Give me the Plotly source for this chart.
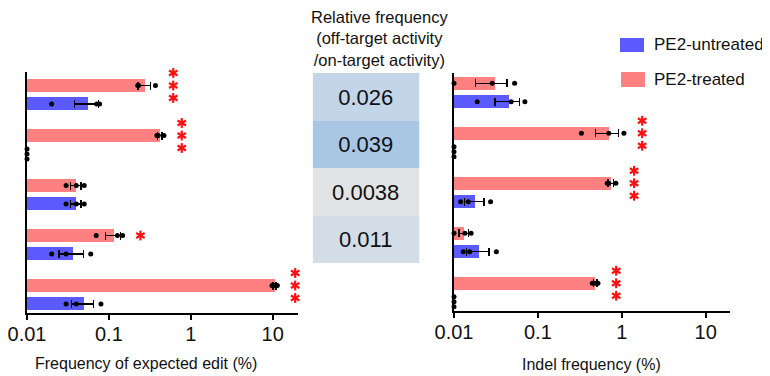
import numpy as np
import plotly.graph_objects as go

# ---------------- data ----------------
groups = [1, 2, 3, 4, 5]
series_names = ["PE2-untreated", "PE2-treated"]

# replicate values (%) per group; 0 = not detected
left_treated = [[0.225, 0.23, 0.37], [0.385, 0.40, 0.47], [0.030, 0.040, 0.050],
                [0.070, 0.127, 0.147], [9.8, 10.4, 11.4]]
left_untreated = [[0.020, 0.071, 0.077], [0, 0, 0], [0.030, 0.040, 0.050],
                  [0.020, 0.030, 0.060], [0.030, 0.040, 0.080]]
right_treated = [[0.010, 0.0286, 0.0528], [0.33, 0.70, 1.06], [0.67, 0.70, 0.85],
                 [0.010, 0.0135, 0.016], [0.445, 0.49, 0.52]]
right_untreated = [[0.0189, 0.048, 0.070], [0, 0, 0], [0.012, 0.0148, 0.0273],
                   [0.0129, 0.0154, 0.032], [0, 0, 0]]

left_sig = ["***", "***", "", "*", "***"]
right_sig = ["", "***", "***", "", "***"]

table_title = "Relative frequency<br>(off-target activity<br>/on-target activity)"
table_values = ["0.026", "0.039", "0.0038", "0.011"]

x_ticks = [0.01, 0.1, 1, 10]
x_tick_labels = ["0.01", "0.1", "1", "10"]
left_xtitle = "Frequency of expected edit (%)"
right_xtitle = "Indel frequency (%)"

# ---------------- styles ----------------
WIN_W, WIN_H = 770, 376      # browser window
OFF = 8                      # default page margin around the plot div
W, H = WIN_W - OFF, WIN_H - OFF
FONT = "Liberation Sans, Arial, sans-serif"
BLUE = "#5a5aff"
RED = "#ff8080"
STAR = "#ff1010"
TABLE_COLORS = ["#c3d5e8", "#a9c6e4", "#e2e3e5", "#d3dde8"]
D = 0.185      # half distance between paired bars (axis units)
BW = 0.26      # bar thickness (axis units)


def px_x(p):
    """window pixel -> paper fraction"""
    return (p - OFF) / W


def px_y(p):
    return (WIN_H - p) / H


fig = go.Figure()


def add_panel(treated, untreated, sig, xa, ya):
    g = np.array(groups, dtype=float)
    for reps, off, color in [(treated, -D, RED), (untreated, D, BLUE)]:
        reps = np.array(reps, dtype=float)
        mean = reps.mean(axis=1)
        sem = reps.std(axis=1, ddof=1) / np.sqrt(reps.shape[1])
        xb = np.where(mean > 0, mean, np.nan)
        fig.add_trace(go.Bar(
            x=xb, y=g + off, orientation="h", width=BW,
            marker=dict(color=color, line=dict(width=0)),
            error_x=dict(type="data", symmetric=False, array=sem, arrayminus=sem,
                         color="black", thickness=1.3, width=4),
            xaxis=xa, yaxis=ya, showlegend=False, hoverinfo="x"))
        xs, ys = [], []
        for gi, row in zip(g, reps):
            zero_idx = 0
            for v in row:
                if v > 0:
                    xs.append(v)
                    ys.append(gi + off)
                else:
                    xs.append(x_ticks[0])
                    ys.append(gi + off + (zero_idx - 1) * 0.1)
                    zero_idx += 1
        fig.add_trace(go.Scatter(
            x=xs, y=ys, mode="markers", cliponaxis=False,
            marker=dict(color="black", size=5),
            xaxis=xa, yaxis=ya, showlegend=False, hoverinfo="x"))
    # significance stars (6-armed asterisks)
    sx, sy, sa = [], [], []
    for gi, row, s in zip(g, treated, sig):
        n = len(s)
        for k in range(n):
            for ang in (0, 60, 120):
                sx.append(max(row) * 1.65)
                sy.append(gi - D + (k - (n - 1) / 2) * 0.25)
                sa.append(ang)
    fig.add_trace(go.Scatter(
        x=sx, y=sy, mode="markers", cliponaxis=False,
        marker=dict(symbol="line-ns-open", size=7, angle=sa, color=STAR,
                    line=dict(color=STAR, width=2.2)),
        xaxis=xa, yaxis=ya, showlegend=False, hoverinfo="skip"))


add_panel(left_treated, left_untreated, left_sig, "x", "y")
add_panel(right_treated, right_untreated, right_sig, "x2", "y2")

# table of relative frequencies, drawn as a one-column heatmap
n_rows = len(table_values)
fig.add_trace(go.Heatmap(
    x=[0], y=list(range(n_rows)),
    z=[[i] for i in range(n_rows)],
    text=[[v] for v in table_values],
    texttemplate="%{text}",
    textfont=dict(family=FONT, size=22, color="#111111"),
    colorscale=[[i / (n_rows - 1), c] for i, c in enumerate(TABLE_COLORS)],
    zmin=0, zmax=n_rows - 1, showscale=False, hoverinfo="text",
    xgap=0, ygap=0, xaxis="x3", yaxis="y3"))

xaxis_common = dict(type="log", showgrid=False, zeroline=False, automargin=False,
                    tickmode="array", tickvals=x_ticks, ticktext=x_tick_labels,
                    ticks="outside", ticklen=5, tickwidth=2, tickcolor="black",
                    ticklabelstandoff=-3, ticklabeloverflow="allow",
                    showline=True, linewidth=2, linecolor="black",
                    tickfont=dict(family=FONT, size=20, color="#111111"))
yaxis_common = dict(showgrid=False, zeroline=False, showticklabels=False, automargin=False,
                    ticks="", showline=True, linewidth=2, linecolor="black")

fig.update_layout(
    width=W, height=H, autosize=False,
    margin=dict(l=0, r=0, t=0, b=0, pad=0, autoexpand=False),
    showlegend=False,
    paper_bgcolor="white", plot_bgcolor="white",
    bargap=0,
    xaxis=dict(xaxis_common, domain=[px_x(27), px_x(298)], range=[-2, 1.309], anchor="y"),
    yaxis=dict(yaxis_common, domain=[px_y(313), px_y(72.25)], range=[5.365, 0.55], anchor="x"),
    xaxis2=dict(xaxis_common, domain=[px_x(454), px_x(730)], range=[-2, 1.29], anchor="y2"),
    yaxis2=dict(yaxis_common, domain=[px_y(311), px_y(73)], range=[5.37, 0.61], anchor="x2"),
    xaxis3=dict(domain=[px_x(312.7), px_x(419.3)], range=[-0.5, 0.5], visible=False,
                anchor="y3"),
    yaxis3=dict(domain=[px_y(263), px_y(73)], range=[n_rows - 0.5, -0.5], visible=False,
                anchor="x3"),
)

annotations = [
    dict(text=table_title, x=px_x(379), y=px_y(38.5), xref="paper", yref="paper",
         xanchor="center", yanchor="middle", showarrow=False,
         font=dict(family=FONT, size=16.5, color="#111111")),
    dict(text=left_xtitle, x=px_x(146), y=px_y(363), xref="paper", yref="paper",
         xanchor="center", yanchor="middle", showarrow=False,
         font=dict(family=FONT, size=16, color="#111111")),
    dict(text=right_xtitle, x=px_x(591), y=px_y(364), xref="paper", yref="paper",
         xanchor="center", yanchor="middle", showarrow=False,
         font=dict(family=FONT, size=16, color="#111111")),
]
shapes = []
for name, color, (top, bot, left) in zip(series_names, [BLUE, RED],
                                         [(38, 52, 620), (72, 87, 621)]):
    shapes.append(dict(type="rect", xref="paper", yref="paper",
                       x0=px_x(left), x1=px_x(left + 24), y0=px_y(bot), y1=px_y(top),
                       fillcolor=color, line=dict(width=0)))
    annotations.append(dict(text=name, x=px_x(652), y=px_y((top + bot) / 2),
                            xref="paper", yref="paper", xanchor="left", yanchor="middle",
                            showarrow=False,
                            font=dict(family=FONT, size=17, color="#111111")))
fig.update_layout(annotations=annotations, shapes=shapes)

fig.write_html("out.html")
